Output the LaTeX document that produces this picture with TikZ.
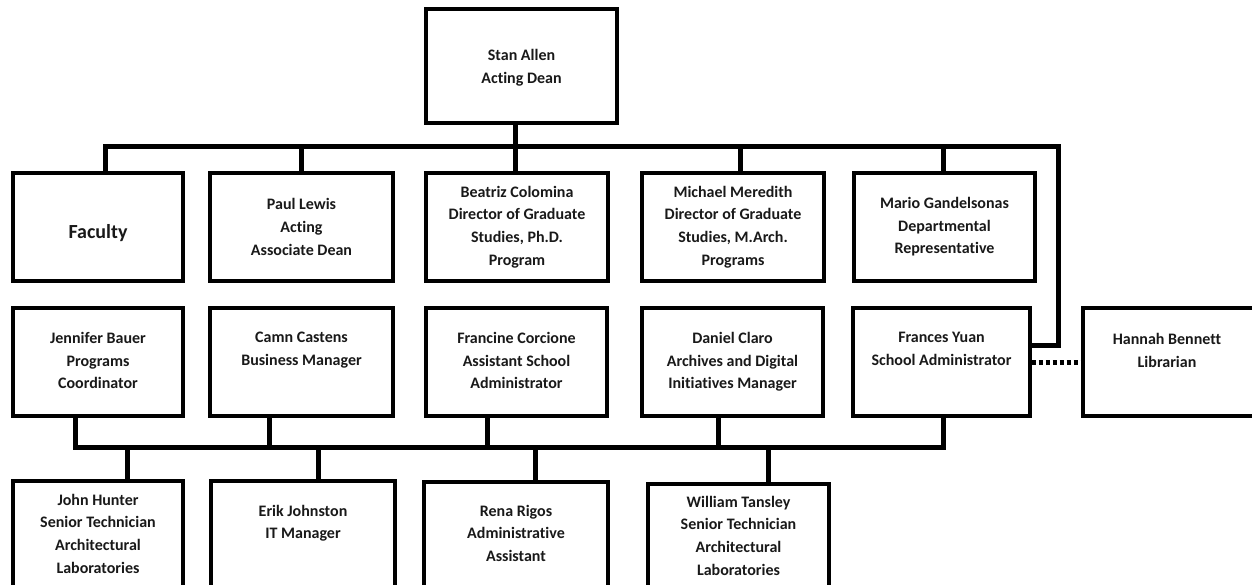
\documentclass[tikz,border=0pt]{standalone}
\usepackage{fontspec}
\setmainfont{Carlito}[Ligatures={NoCommon}]
\begin{document}
\begin{tikzpicture}[x=1pt,y=-1pt,
  box/.style={draw=black, line width=3.4pt, inner sep=0pt, fill=white},
  txt/.style={font=\fontsize{16}{22.6}\selectfont\bfseries, align=center, inner sep=0pt, text=black!90},
  conn/.style={line width=5pt, line join=miter, line cap=butt, black},
  dotconn/.style={line width=5pt, black, dash pattern=on 4pt off 3pt}]
\newcommand\orgbox[5]{\node[box, minimum width={#4-#2}, minimum height={#5-#3}] (#1) at ({(#2+#4)/2},{(#3+#5)/2}) {};}
\useasboundingbox (0,0) rectangle (1252,585);
\fill[white] (0,0) rectangle (1252,585);
\clip (0,0) rectangle (1252,585);
% connector corner points
\coordinate (tl) at (105,147);
\coordinate (tr) at (1058,147);
\coordinate (tie) at (1058,345);
\coordinate (sx) at (515,147);
\coordinate (bl) at (75,447);
\coordinate (br) at (943,447);
% boxes
\orgbox{stan}{426}{9}{617}{123}
\orgbox{faculty}{13}{173}{183}{281}
\orgbox{paul}{210}{173}{393}{281}
\orgbox{beatriz}{426}{173}{608}{281}
\orgbox{michael}{642}{173}{824}{281}
\orgbox{mario}{854}{173}{1035}{281}
\orgbox{jennifer}{13}{308}{183}{416}
\orgbox{camn}{210}{308}{393}{416}
\orgbox{francine}{426}{308}{607}{416}
\orgbox{daniel}{642}{308}{823}{416}
\orgbox{fyuan}{853}{308}{1030}{416}
\orgbox{hannah}{1083}{308}{1275}{416}
\orgbox{john}{13}{481}{183}{610}
\orgbox{erik}{211}{481}{395}{610}
\orgbox{rena}{424}{482}{608}{610}
\orgbox{william}{648}{484}{829}{610}
% top tree
\draw[conn] (tl |- faculty.north) -- (tl) -- (tr) -- (tie) -- (tie -| fyuan.east);
\draw[conn] (sx |- stan.south) -- (sx |- beatriz.north);
\coordinate (dp) at (301,147); \draw[conn] (dp) -- (dp |- paul.north);
\coordinate (dm) at (740,147); \draw[conn] (dm) -- (dm |- michael.north);
\coordinate (dg) at (943,147); \draw[conn] (dg) -- (dg |- mario.north);
% bottom tree
\draw[conn] (bl |- jennifer.south) -- (bl) -- (br) -- (br |- fyuan.south);
\coordinate (uc) at (269,447); \draw[conn] (uc) -- (uc |- camn.south);
\coordinate (uf) at (487,447); \draw[conn] (uf) -- (uf |- francine.south);
\coordinate (ud) at (718,447); \draw[conn] (ud) -- (ud |- daniel.south);
\coordinate (dj) at (127,447); \draw[conn] (dj) -- (dj |- john.north);
\coordinate (de) at (318,447); \draw[conn] (de) -- (de |- erik.north);
\coordinate (dr) at (535,447); \draw[conn] (dr) -- (dr |- rena.north);
\coordinate (dw) at (768,447); \draw[conn] (dw) -- (dw |- william.north);
% dotted link
\draw[dotconn] (fyuan.east) -- (hannah.west);
% texts
\node[txt] (tstan) at ([yshift=-1.5pt]stan.center) {Stan Allen\\Acting Dean};
\node[txt, font=\fontsize{20}{24}\selectfont\bfseries] (tfac) at ([yshift=-6pt]faculty.center) {Faculty};
\node[txt] (tpaul) at (paul.center) {Paul Lewis\\Acting\\Associate Dean};
\node[txt] (tbea) at (beatriz.center) {Beatriz Colomina\\Director of Graduate\\Studies, Ph.D.\\Program};
\node[txt] (tmic) at (michael.center) {Michael Meredith\\Director of Graduate\\Studies, M.Arch.\\Programs};
\node[txt] (tmar) at (mario.center) {Mario Gandelsonas\\Departmental\\Representative};
\node[txt, anchor=north] (tjen) at ([yshift=-26pt]jennifer.north) {Jennifer Bauer\\Programs\\Coordinator};
\node[txt, anchor=north] (tcam) at ([yshift=-26pt]camn.north) {Camn Castens\\Business Manager};
\node[txt, anchor=north] (tfra) at ([yshift=-26pt]francine.north) {Francine Corcione\\Assistant School\\Administrator};
\node[txt, anchor=north] (tdan) at ([yshift=-26pt]daniel.north) {Daniel Claro\\Archives and Digital\\Initiatives Manager};
\node[txt, anchor=north] (tfy) at ([yshift=-26pt]fyuan.north) {Frances Yuan\\School Administrator};
\node[txt, anchor=north] (than) at ([yshift=-27pt]hannah.north -| 1167,0) {Hannah Bennett\\Librarian};
\node[txt, anchor=north] (tjoh) at ([yshift=-14.5pt]john.north) {John Hunter\\Senior Technician\\Architectural\\Laboratories};
\node[txt, anchor=north] (teri) at ([yshift=-25.5pt]erik.north) {Erik Johnston\\IT Manager};
\node[txt, anchor=north] (tren) at ([yshift=-24.5pt]rena.north) {Rena Rigos\\Administrative\\Assistant};
\node[txt, anchor=north] (twil) at ([yshift=-13.5pt]william.north) {William Tansley\\Senior Technician\\Architectural\\Laboratories};
\end{tikzpicture}
\end{document}
